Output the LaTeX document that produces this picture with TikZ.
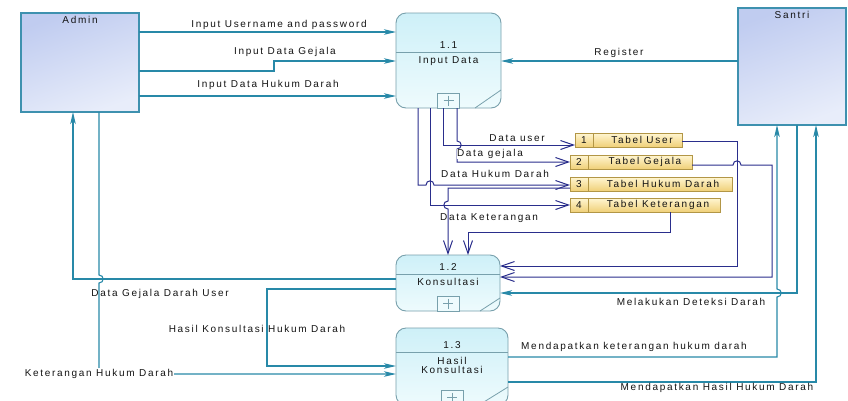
\documentclass[tikz,border=0pt]{standalone}
\usepackage{fontspec}
\setmainfont{Liberation Sans}[LetterSpace=17]
\usetikzlibrary{arrows.meta}
\definecolor{tealc}{RGB}{40,137,168}
\definecolor{navyc}{RGB}{42,46,140}
\definecolor{entA}{RGB}{192,204,240}
\definecolor{entB}{RGB}{232,237,250}
\definecolor{entline}{RGB}{62,145,175}
\definecolor{procA}{RGB}{206,240,248}
\definecolor{procB}{RGB}{238,251,253}
\definecolor{procline}{RGB}{120,160,172}
\definecolor{storeA}{RGB}{255,246,210}
\definecolor{storeB}{RGB}{240,208,120}
\definecolor{storeline}{RGB}{178,150,70}
\definecolor{txtc}{RGB}{20,20,20}
\newcommand\dfdfont{\fontsize{10}{11.5}\selectfont}
\begin{document}
\begin{tikzpicture}[x=1pt, y=-1pt,
  lbl/.style={font=\dfdfont, text=txtc, inner sep=0pt},
  entity/.style={draw=entline, line width=1.1pt, top color=entA, bottom color=entB,
    shading angle=20, inner sep=0pt, outer sep=0pt, anchor=north west},
  proc/.style={draw=procline, line width=0.9pt, rounded corners=10pt, top color=procA,
    bottom color=procB, inner sep=0pt, outer sep=0pt, anchor=north west},
  procpart/.style={draw=procline, line width=0.8pt},
  plusbox/.style={draw=procline, line width=0.8pt, fill=procB, minimum width=22pt,
    minimum height=15pt, inner sep=0pt, outer sep=0pt, anchor=south},
  store/.style={draw=storeline, line width=0.8pt, top color=storeA, bottom color=storeB,
    minimum height=14pt, inner sep=0pt, outer sep=0pt, anchor=north west},
  storediv/.style={draw=storeline, line width=0.8pt},
  tflow/.style={draw=tealc, line width=1.1pt, -{Stealth[length=12pt,width=5.5pt,inset=3pt]}},
  nflow/.style={draw=navyc, line width=1pt, -{Straight Barb[length=13pt,width=9pt]}},
]
\fill[white] (0,0) rectangle (848,400);
\useasboundingbox (0,0) rectangle (848,400);

% ---- external entities ----
\node[entity, minimum width=118pt, minimum height=99pt,
  label={[lbl, anchor=north, yshift=-3.5pt]north:Admin}] (admin) at (21,13) {};
\node[entity, minimum width=108pt, minimum height=117pt,
  label={[lbl, anchor=north, yshift=-3.5pt]north:Santri}] (santri) at (738,8) {};

% ---- process 1.1 ----
\node[proc, minimum width=105pt, minimum height=95pt] (p11) at (396,13) {};
\draw[procpart] (p11.west |- 0,52) -- (p11.east |- 0,52);
\node[lbl] (p11num) at (448.5,45) {1.1};
\node[lbl] (p11name) at (448.5,61) {Input Data};
\node[plusbox] (p11plus) at (p11.south) {};
\draw[procpart] (p11plus.center) ++(-5,0) -- ++(10,0) (p11plus.center) ++(0,-5) -- ++(0,10);
\draw[procpart] ([xshift=-26pt]p11.south east) -- ([yshift=18pt]p11.south east);

% ---- process 1.2 ----
\node[proc, minimum width=104pt, minimum height=56pt] (p12) at (396,255) {};
\draw[procpart] (p12.west |- 0,274) -- (p12.east |- 0,274);
\node[lbl] (p12num) at (448,267) {1.2};
\node[lbl] (p12name) at (448,282) {Konsultasi};
\node[plusbox] (p12plus) at (p12.south) {};
\draw[procpart] (p12plus.center) ++(-5,0) -- ++(10,0) (p12plus.center) ++(0,-5) -- ++(0,10);
\draw[procpart] ([xshift=-20pt]p12.south east) -- ([yshift=13pt]p12.south east);

% ---- process 1.3 ----
\node[proc, minimum width=112pt, minimum height=77pt] (p13) at (396,328) {};
\draw[procpart] (p13.west |- 0,352) -- (p13.east |- 0,352);
\node[lbl] (p13num) at (452,345) {1.3};
\node[lbl] (p13name) at (452,367) {\begin{tabular}{@{}c@{}}Hasil\\[-2.5pt]Konsultasi\end{tabular}};
\node[plusbox] (p13plus) at (p13.south) {};
\draw[procpart] (p13plus.center) ++(-5,0) -- ++(10,0) (p13plus.center) ++(0,-5) -- ++(0,10);
\draw[procpart] ([xshift=-29pt]p13.south east) -- ([yshift=18pt]p13.south east);

% ---- data stores ----
\node[store, minimum width=107pt] (s1) at (575,133) {};
\draw[storediv] ([xshift=18pt]s1.north west) -- ([xshift=18pt]s1.south west);
\node[lbl] (s1num) at ([xshift=9pt]s1.west) {1};
\node[lbl] (s1name) at (642,140) {Tabel User};

\node[store, minimum width=122pt] (s2) at (570,155) {};
\draw[storediv] ([xshift=18pt]s2.north west) -- ([xshift=18pt]s2.south west);
\node[lbl] (s2num) at ([xshift=9pt]s2.west) {2};
\node[lbl] (s2name) at (645,162) {Tabel Gejala};

\node[store, minimum width=162pt] (s3) at (570,177) {};
\draw[storediv] ([xshift=18pt]s3.north west) -- ([xshift=18pt]s3.south west);
\node[lbl] (s3num) at ([xshift=9pt]s3.west) {3};
\node[lbl] (s3name) at (663,184) {Tabel Hukum Darah};

\node[store, minimum width=150pt] (s4) at (570,198) {};
\draw[storediv] ([xshift=18pt]s4.north west) -- ([xshift=18pt]s4.south west);
\node[lbl] (s4num) at ([xshift=9pt]s4.west) {4};
\node[lbl] (s4name) at (658,205) {Tabel Keterangan};

% ---- flows between Admin / Santri and the processes ----
\draw[tflow] (admin.east |- 0,32) -- (p11.west |- 0,32);
\draw[tflow] (admin.east |- 0,71) -- (274,71) -- (274,61) -- (p11.west |- 0,61);
\draw[tflow] (admin.east |- 0,96) -- (p11.west |- 0,96);
\draw[tflow] (santri.west |- 0,61) -- (p11.east |- 0,61);

\draw[tflow] (p12.west |- 0,279) -- (73,279) -- (admin.south -| 73,0);
\draw[tflow] (admin.south -| 99,0) -- (99,275) .. controls (104.5,275) and (104.5,283) .. (99,283)
  -- (99,374) -- (p13.west |- 0,374);
\draw[tflow] (p12.west |- 0,289) -- (267,289) -- (267,366) -- (p13.west |- 0,366);

\draw[tflow] (santri.south -| 797,0) -- (797,293) -- (p12.east |- 0,293);
\draw[tflow] (p13.east |- 0,357) -- (777,357) -- (777,297)
  .. controls (782.5,297) and (782.5,289) .. (777,289) -- (santri.south -| 777,0);
\draw[tflow] (p13.east |- 0,382) -- (816,382) -- (santri.south -| 816,0);

% ---- flows to and from the data stores ----
\draw[nflow] (p11.south -| 443,0) -- (443,145) -- (s1.west |- 0,145);
\draw[nflow] (p11.south -| 457,0) -- (457,141) .. controls (462.5,141) and (462.5,149) .. (457,149)
  -- (457,162) -- (s2.west |- 0,162);
\draw[nflow] (p11.south -| 418,0) -- (418,185) -- (426,185)
  .. controls (426,179.5) and (434,179.5) .. (434,185) -- (s3.west |- 0,185);
\draw[nflow] (p11.south -| 430,0) -- (430,205) -- (s4.west |- 0,205);
\draw[nflow] (s3.west |- 0,188) -- (448,188) -- (448,201)
  .. controls (442.5,201) and (442.5,209) .. (448,209) -- (p12.north -| 448,0);
\draw[nflow] (s4.south -| 670,0) -- (670,232) -- (468,232) -- (p12.north -| 468,0);
\draw[nflow] (s1.east |- 0,141) -- (737,141) -- (737,266) -- (p12.east |- 0,266);
\draw[nflow] (s2.east |- 0,165) -- (733,165) .. controls (733,159.5) and (741,159.5) .. (741,165)
  -- (772,165) -- (772,277) -- (p12.east |- 0,277);

% ---- flow labels ----
\node[lbl] (l1) at (279,25) {Input Username and password};
\node[lbl] (l2) at (285,52) {Input Data Gejala};
\node[lbl] (l3) at (268,85) {Input Data Hukum Darah};
\node[lbl] (l4) at (619,53) {Register};
\node[lbl] (l5) at (517,138) {Data user};
\node[lbl, fill=white, inner sep=0.5pt] (l6) at (490,154) {Data gejala};
\node[lbl] (l7) at (495,174) {Data Hukum Darah};
\node[lbl] (l8) at (489,218) {Data Keterangan};
\node[lbl] (l9) at (160,294) {Data Gejala Darah User};
\node[lbl] (l10) at (257,329) {Hasil Konsultasi Hukum Darah};
\node[lbl, fill=white, inner sep=1pt] (l11) at (99,374) {Keterangan Hukum Darah};
\node[lbl] (l12) at (691,302) {Melakukan Deteksi Darah};
\node[lbl] (l13) at (634,347) {Mendapatkan keterangan hukum darah};
\node[lbl] (l14) at (717,388) {Mendapatkan Hasil Hukum Darah};
\end{tikzpicture}
\end{document}
